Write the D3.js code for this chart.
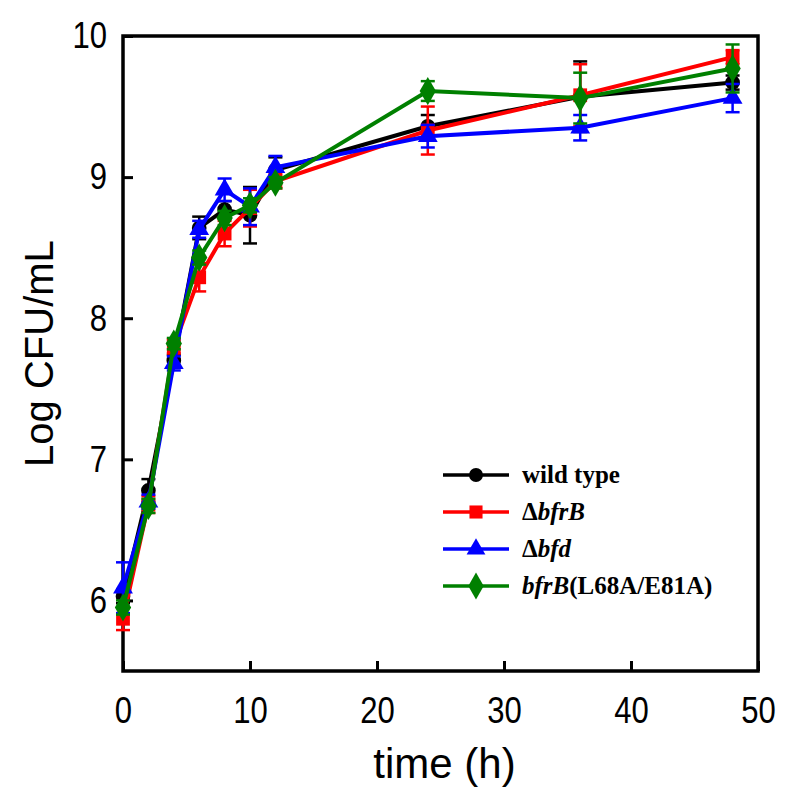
<!DOCTYPE html>
<html><head><meta charset="utf-8">
<script src="https://cdn.jsdelivr.net/npm/d3@7"></script>
<style>
body{margin:0;background:#fff;}
svg{display:block;}
</style></head>
<body>
<svg id="chart" width="800" height="802"></svg>
<script>
const times = [0, 2, 4, 6, 8, 10, 12, 24, 36, 48];
const wildType    = [6.03, 6.78, 7.70, 8.64, 8.77, 8.73, 9.05, 9.36, 9.57, 9.67];
const wildTypeErr = [0.05, 0.08, 0.04, 0.08, 0.06, 0.20, 0.09, 0.08, 0.25, 0.05];
const dBfrB       = [5.87, 6.68, 7.80, 8.29, 8.60, 8.78, 8.97, 9.33, 9.58, 9.85];
const dBfrBErr    = [0.08, 0.06, 0.05, 0.10, 0.09, 0.13, 0.05, 0.17, 0.22, 0.05];
const dBfd        = [6.09, 6.70, 7.68, 8.63, 8.91, 8.79, 9.07, 9.29, 9.35, 9.56];
const dBfdErr     = [0.18, 0.05, 0.05, 0.06, 0.08, 0.13, 0.08, 0.08, 0.09, 0.10];
const mutant      = [5.95, 6.67, 7.82, 8.43, 8.71, 8.80, 8.96, 9.61, 9.56, 9.77];
const mutantErr   = [0.05, 0.05, 0.04, 0.05, 0.05, 0.05, 0.04, 0.07, 0.18, 0.17];
const xTicks = [0, 10, 20, 30, 40, 50];
const yTicks = [6, 7, 8, 9, 10];

const series = [
  {key:"wt", vals: wildType, err: wildTypeErr, color:"#000000", sym: d3.symbolCircle, size: 170,
   label:[{t:"wild type", i:false}]},
  {key:"bfrB", vals: dBfrB, err: dBfrBErr, color:"#ff0000", sym: d3.symbolSquare, size: 190,
   label:[{t:"\u0394", i:false},{t:"bfrB", i:true}]},
  {key:"bfd", vals: dBfd, err: dBfdErr, color:"#0000ff", sym: d3.symbolTriangle, size: 170,
   label:[{t:"\u0394", i:false},{t:"bfd", i:true}]},
  {key:"mut", vals: mutant, err: mutantErr, color:"#008000", sym: d3.symbolDiamond, size: 230,
   label:[{t:"bfrB", i:true},{t:"(L68A/E81A)", i:false}]}
];

const L = 123, R = 758, T = 36, B = 671;
const x = d3.scaleLinear().domain([0, 50]).range([L, R]);
const y = d3.scaleLinear().domain([5.5, 10]).range([B, T]);

const svg = d3.select("#chart");
const tickFont = "'Liberation Sans',Arial,sans-serif";
const narrow = 0.84;

// axes
const xAxis = d3.axisBottom(x).tickValues(xTicks).tickSize(-10).tickPadding(26).tickFormat(d3.format("d"));
const gx = svg.append("g").attr("transform", `translate(0,${B})`).call(xAxis);
const yAxis = d3.axisLeft(y).tickValues(yTicks).tickSize(-10).tickPadding(16).tickFormat(d3.format("d"));
const gy = svg.append("g").attr("transform", `translate(${L},0)`).call(yAxis);
[gx, gy].forEach(g => {
  g.select(".domain").remove();
  g.selectAll(".tick line").attr("stroke", "#000").attr("stroke-width", 3);
  g.selectAll(".tick text").attr("fill", "#000").style("font-family", tickFont).style("font-size", "37px");
});
gx.selectAll(".tick text").attr("transform", `scale(${narrow},1)`);
gy.selectAll(".tick text").attr("x", -16 / narrow).attr("transform", `scale(${narrow},1)`);

// frame
svg.append("rect").attr("x", L).attr("y", T).attr("width", R - L).attr("height", B - T)
  .attr("fill", "none").attr("stroke", "#000").attr("stroke-width", 3.5);

// axis titles
svg.append("text").attr("x", (L + R) / 2 + 4).attr("y", 778).attr("text-anchor", "middle")
  .style("font-family", "'Liberation Sans',Arial,sans-serif").style("font-size", "42px").text("time (h)");
svg.append("text").attr("transform", `translate(53,${(T + B) / 2}) rotate(-90)`).attr("text-anchor", "middle")
  .style("font-family", "'Liberation Sans',Arial,sans-serif").style("font-size", "40px").text("Log CFU/mL");

// series
const line = d3.line().x(d => x(d.t)).y(d => y(d.v));
series.forEach(s => {
  const pts = times.map((t, i) => ({t, v: s.vals[i], e: s.err[i]}));
  const g = svg.append("g");
  const eb = g.selectAll(".eb").data(pts).enter().append("g");
  eb.append("line").attr("x1", d => x(d.t)).attr("x2", d => x(d.t))
    .attr("y1", d => y(d.v - d.e)).attr("y2", d => y(d.v + d.e))
    .attr("stroke", s.color).attr("stroke-width", 2.5);
  eb.append("line").attr("x1", d => x(d.t) - 7).attr("x2", d => x(d.t) + 7)
    .attr("y1", d => y(d.v + d.e)).attr("y2", d => y(d.v + d.e))
    .attr("stroke", s.color).attr("stroke-width", 2.5);
  eb.append("line").attr("x1", d => x(d.t) - 7).attr("x2", d => x(d.t) + 7)
    .attr("y1", d => y(d.v - d.e)).attr("y2", d => y(d.v - d.e))
    .attr("stroke", s.color).attr("stroke-width", 2.5);
  g.append("path").datum(pts).attr("d", line).attr("fill", "none")
    .attr("stroke", s.color).attr("stroke-width", 4);
  g.selectAll(".m").data(pts).enter().append("path")
    .attr("transform", d => `translate(${x(d.t)},${y(d.v)})`)
    .attr("d", d3.symbol().type(s.sym).size(s.size)).attr("fill", s.color);
});

// legend
const lgX = 443, lgY0 = 475, lgDy = 37;
series.forEach((s, i) => {
  const yy = lgY0 + i * lgDy;
  const g = svg.append("g");
  g.append("line").attr("x1", lgX).attr("x2", lgX + 66).attr("y1", yy).attr("y2", yy)
    .attr("stroke", s.color).attr("stroke-width", 3.5);
  g.append("path").attr("transform", `translate(${lgX + 33},${yy})`)
    .attr("d", d3.symbol().type(s.sym).size(s.size * 0.9)).attr("fill", s.color);
  const t = g.append("text").attr("x", lgX + 79).attr("y", yy + 8)
    .style("font-family", "'Liberation Serif','Times New Roman',serif").style("font-size", "25px")
    .style("font-weight", "bold");
  s.label.forEach(p => t.append("tspan").style("font-style", p.i ? "italic" : "normal").text(p.t));
});
</script>
</body></html>
